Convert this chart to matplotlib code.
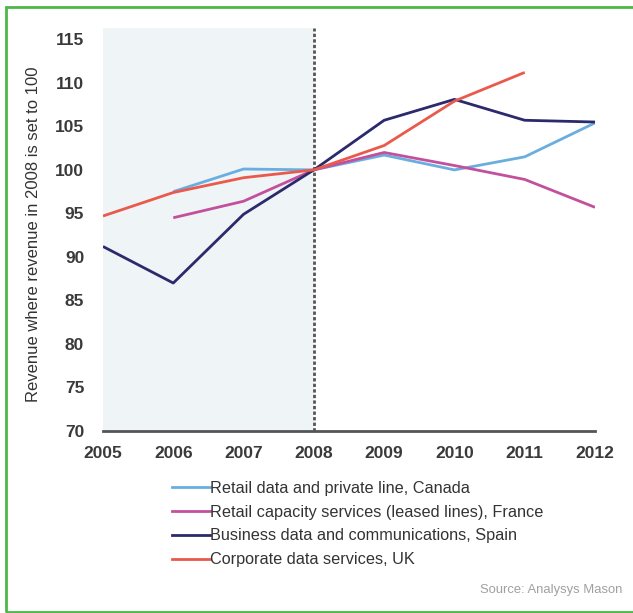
import matplotlib.pyplot as plt
from matplotlib.patches import Rectangle
from matplotlib.lines import Line2D

years = [2005, 2006, 2007, 2008, 2009, 2010, 2011, 2012]

canada = [None, 97.5, 100.1, 100, 101.7, 100.0, 101.5, 105.4]
france = [None, 94.5, 96.4, 100, 102.0, 100.5, 98.9, 95.7]
spain = [91.2, 87.0, 94.9, 100, 105.7, 108.1, 105.7, 105.5]
uk = [94.7, 97.4, 99.1, 100, 102.8, 107.9, 111.2, None]

labels = ['Retail data and private line, Canada',
          'Retail capacity services (leased lines), France',
          'Business data and communications, Spain',
          'Corporate data services, UK']
colors = ['#6aaee0', '#c2509c', '#2a2a6c', '#ea5a4c']
yticks = [70, 75, 80, 85, 90, 95, 100, 105, 110, 115]

plt.rcParams['font.family'] = ['Liberation Sans', 'DejaVu Sans']

fig = plt.figure(figsize=(6.33, 6.13), dpi=100)
ax = fig.add_axes([0.1627, 0.2969, 0.7773, 0.6574])

# pre-2008 period
ax.axvspan(2005, 2008, color='#eff4f6', zorder=0, lw=0)
ax.axvline(2008, color='#555555', lw=2, ls=(0, (1.2, 0.8)), zorder=1)

for series, c in zip([canada, france, spain, uk], colors):
    xs = [y for y, v in zip(years, series) if v is not None]
    vs = [v for v in series if v is not None]
    ax.plot(xs, vs, color=c, lw=2, zorder=3, solid_capstyle='butt')

ax.set_xlim(2005, 2012)
ax.set_ylim(70, 116.3)
ax.set_xticks(years)
ax.set_yticks(yticks)
ax.tick_params(length=0, labelsize=12.5, labelcolor='#3a3a3a')
ax.tick_params(axis='x', pad=10.5)
ax.tick_params(axis='y', pad=13.5)
for t in ax.get_xticklabels() + ax.get_yticklabels():
    t.set_fontweight('bold')
for s in ['top', 'right', 'left']:
    ax.spines[s].set_visible(False)
ax.spines['bottom'].set_color('#555555')
ax.spines['bottom'].set_linewidth(2)
ax.set_ylabel('Revenue where revenue in 2008 is set to 100', fontsize=12,
              color='#333333', labelpad=10.5, y=0.488)

handles = [Line2D([], [], color=c, lw=2) for c in colors]
fig.legend(handles, labels, loc='upper left', bbox_to_anchor=(0.272, 0.216),
           frameon=False, fontsize=11.7, handlelength=2.3, handletextpad=0.05,
           labelspacing=0.55, labelcolor='#333333', borderaxespad=0, borderpad=0)

fig.text(0.983, 0.038, 'Source: Analysys Mason', ha='right', va='center',
         fontsize=9.4, color='#a0a0a0')

# green frame (open on the right)
fig.patches.append(Rectangle((5.5 / 633, 1.5 / 613), 640 / 633, 605 / 613,
                             transform=fig.transFigure, fill=False,
                             edgecolor='#4cb848', lw=2, clip_on=False))

fig.savefig('out.png', dpi=100)
